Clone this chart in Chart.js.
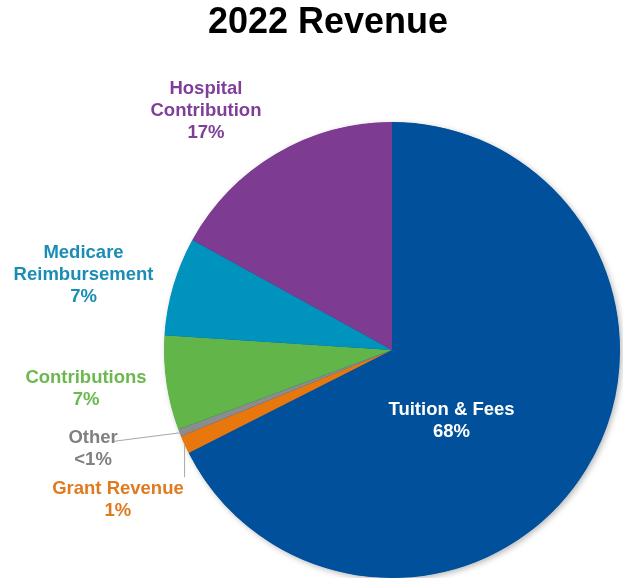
<!DOCTYPE html>
<html>
<head>
<meta charset="utf-8">
<script src="https://cdn.jsdelivr.net/npm/chart.js@4/dist/chart.umd.min.js"></script>
<style>
  html, body { margin: 0; padding: 0; background: #ffffff; }
  #wrap { width: 623px; height: 578px; position: relative; }
</style>
</head>
<body>
<div id="wrap"><canvas id="c" width="623" height="578"></canvas></div>
<script>
// ---- data ----
const titleText = "2022 Revenue";
const categories = ["Tuition & Fees", "Grant Revenue", "Other", "Contributions", "Medicare Reimbursement", "Hospital Contribution"];
const values = [67.6, 1.3, 0.5, 6.7, 7.0, 17.0];
const valueLabels = ["68%", "1%", "<1%", "7%", "7%", "17%"];
const labelLines = [["Tuition & Fees"], ["Grant Revenue"], ["Other"], ["Contributions"], ["Medicare", "Reimbursement"], ["Hospital", "Contribution"]];

// ---- styles ----
const sliceColors = ["#00509B", "#E8770E", "#8C8C8C", "#62B549", "#0093BE", "#7D3C91"];
const labelColors = ["#FFFFFF", "#E07A1F", "#808080", "#6AB84E", "#1B8DB5", "#7F3F98"];
// label anchor (center x, first baseline y) expressed relative to pie center in units of radius
const labelAnchor = [
  [0.261, 0.285],
  [-1.202, 0.632],
  [-1.311, 0.406],
  [-1.342, 0.146],
  [-1.353, -0.403],
  [-0.816, -1.122]
];
const leader = [null, { vertical: true, toY: 0.558 }, { toX: -1.224, toY: 0.401 }, null, null, null];

const pieDecor = {
  id: 'pieDecor',
  beforeDatasetsDraw(chart) {
    const arc = chart.getDatasetMeta(0).data[0];
    if (!arc) return;
    const ctx = chart.ctx;
    ctx.save();
    ctx.shadowColor = 'rgba(0,0,0,0.30)';
    ctx.shadowBlur = 6;
    ctx.shadowOffsetX = 2;
    ctx.shadowOffsetY = 2;
    ctx.fillStyle = sliceColors[0];
    ctx.beginPath();
    ctx.arc(arc.x, arc.y, arc.outerRadius - 0.5, 0, Math.PI * 2);
    ctx.fill();
    ctx.restore();
  },
  afterDatasetsDraw(chart) {
    const ctx = chart.ctx;
    const meta = chart.getDatasetMeta(0);
    const a0 = meta.data[0];
    const cx = a0.x, cy = a0.y, R = a0.outerRadius;
    ctx.save();
    // title
    ctx.fillStyle = '#000';
    ctx.font = 'bold 36px "Liberation Sans", Arial, sans-serif';
    ctx.textAlign = 'center';
    ctx.textBaseline = 'alphabetic';
    ctx.fillText(titleText, 328, 33);
    // leader lines
    ctx.strokeStyle = '#A6A6A6';
    ctx.lineWidth = 1;
    meta.data.forEach((arc, i) => {
      const L = leader[i];
      if (!L) return;
      const mid = (arc.startAngle + arc.endAngle) / 2;
      const px = cx + Math.cos(mid) * R;
      const py = cy + Math.sin(mid) * R;
      ctx.beginPath();
      ctx.moveTo(px, py);
      if (L.vertical) ctx.lineTo(px, cy + L.toY * R);
      else ctx.lineTo(cx + L.toX * R, cy + L.toY * R);
      ctx.stroke();
    });
    // labels
    ctx.font = 'bold 18.5px "Liberation Sans", Arial, sans-serif';
    ctx.textAlign = 'center';
    meta.data.forEach((arc, i) => {
      const lines = labelLines[i].concat([valueLabels[i]]);
      const x = cx + labelAnchor[i][0] * R;
      let y = cy + labelAnchor[i][1] * R;
      ctx.fillStyle = labelColors[i];
      lines.forEach(t => { ctx.fillText(t, x, y); y += 22; });
    });
    ctx.restore();
  }
};

new Chart(document.getElementById('c'), {
  type: 'pie',
  data: {
    labels: categories,
    datasets: [{
      data: values,
      backgroundColor: sliceColors,
      borderWidth: 0,
      hoverOffset: 0
    }]
  },
  options: {
    responsive: false,
    animation: false,
    layout: { padding: { left: 164, right: 3, top: 122, bottom: 0 } },
    plugins: {
      legend: { display: false },
      title: { display: false },
      tooltip: { enabled: false }
    }
  },
  plugins: [pieDecor]
});
</script>
</body>
</html>
